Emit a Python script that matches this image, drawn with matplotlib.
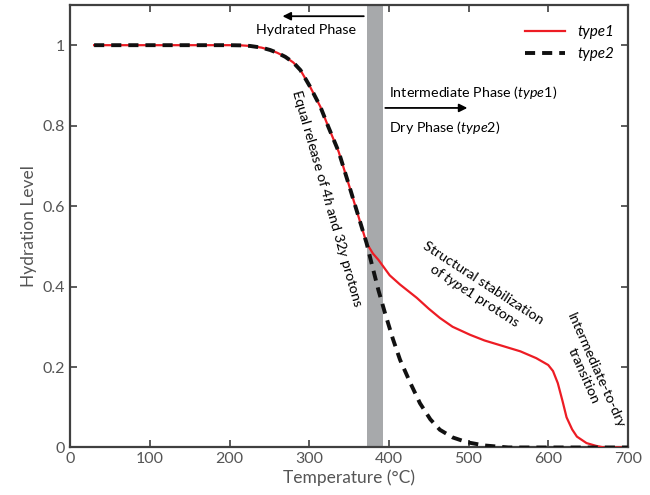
import matplotlib
matplotlib.use("Agg")
import matplotlib.pyplot as plt

plt.rcParams['font.family'] = ['Lato', 'DejaVu Sans']
plt.rcParams['mathtext.fontset'] = 'custom'
plt.rcParams['mathtext.rm'] = 'Lato'
plt.rcParams['mathtext.it'] = 'Lato:italic'

# temperatures (°C) and hydration levels
temp1 = [30, 100, 200, 215, 226, 240, 251, 260, 270, 280, 289, 301, 314, 324, 337,
         351, 364, 372, 380, 387, 401, 414, 435, 450, 464, 480, 502, 520, 540, 565,
         585, 600, 606, 612, 618, 623, 630, 636, 648, 660, 670, 700]
type1 = [1.0, 1.0, 1.0, 0.9995, 0.998, 0.994, 0.988, 0.981, 0.971, 0.957, 0.938,
         0.897, 0.847, 0.797, 0.735, 0.645, 0.56, 0.508, 0.482, 0.466, 0.428, 0.405,
         0.372, 0.345, 0.322, 0.30, 0.28, 0.266, 0.254, 0.239, 0.222, 0.205, 0.19,
         0.16, 0.115, 0.075, 0.045, 0.027, 0.011, 0.004, 0.0, 0.0]

temp2 = [30, 100, 200, 215, 226, 240, 251, 260, 270, 280, 289, 301, 314, 324, 337,
         351, 364, 372, 378, 387, 395, 405, 414, 427, 439, 452, 464, 480, 498, 520,
         550, 700]
type2 = [1.0, 1.0, 1.0, 0.9995, 0.998, 0.994, 0.988, 0.981, 0.971, 0.957, 0.938,
         0.897, 0.847, 0.797, 0.735, 0.645, 0.56, 0.508, 0.46, 0.39, 0.335, 0.27,
         0.218, 0.16, 0.11, 0.07, 0.044, 0.025, 0.013, 0.005, 0.0, 0.0]

band = (372, 392)

fig = plt.figure(figsize=(6.5, 4.95), dpi=100)
ax = fig.add_axes([0.108, 0.096, 0.858, 0.894])

ax.axvspan(band[0], band[1], color='#a7a9ab', lw=0, zorder=1)
ax.plot(temp1, type1, color='#ed1c24', lw=1.6, label='type1', zorder=3)
ax.plot(temp2, type2, color='#111111', lw=2.8, dashes=(2.6, 1.8), label='type2', zorder=4)

ax.set_xlim(0, 700)
ax.set_ylim(0, 1.1)
ax.set_xticks(range(0, 701, 100))
ax.set_yticks([0, 0.2, 0.4, 0.6, 0.8, 1])
ax.set_yticklabels(['0', '0.2', '0.4', '0.6', '0.8', '1'])
ax.tick_params(direction='in', top=True, right=True, length=5, width=1.2,
               colors='#404040', labelsize=11.5, labelcolor='#555555')
for s in ax.spines.values():
    s.set_color('#404040')
    s.set_linewidth(1.6)
ax.set_xlabel('Temperature (°C)', fontsize=12.5, color='#555555', labelpad=2)
ax.set_ylabel('Hydration Level', fontsize=12.5, color='#555555', labelpad=4)

leg = ax.legend(loc='upper right', frameon=False, fontsize=11, handlelength=2.6,
                bbox_to_anchor=(1.0, 0.985))
for t in leg.get_texts():
    t.set_style('italic')

# phase arrows and labels
arrowprops = dict(arrowstyle='-|>', color='black', lw=1.3, mutation_scale=12)
ax.annotate('', xy=(263, 1.072), xytext=(372, 1.072), arrowprops=arrowprops)
ax.text(296, 1.038, 'Hydrated Phase', fontsize=10.3, ha='center', va='center')
ax.annotate('', xy=(502, 0.844), xytext=(392, 0.844), arrowprops=arrowprops)
ax.text(400, 0.883, 'Intermediate Phase ($\\it{type1}$)', fontsize=10.3, ha='left', va='center')
ax.text(400, 0.796, 'Dry Phase ($\\it{type2}$)', fontsize=10.3, ha='left', va='center')

ax.text(322, 0.62, 'Equal release of 4$\\it{h}$ and 32$\\it{y}$ protons', fontsize=10.3,
        rotation=-74, ha='center', va='center', rotation_mode='anchor')
ax.text(512, 0.39, 'Structural stabilization\nof $\\it{type1}$ protons', fontsize=10.3,
        rotation=-33, ha='center', va='center', rotation_mode='anchor', linespacing=1.1)
ax.text(652, 0.185, 'Intermediate-to-dry\ntransition', fontsize=10.3,
        rotation=-66, ha='center', va='center', rotation_mode='anchor', linespacing=1.1)

fig.savefig('out.png', dpi=100)
